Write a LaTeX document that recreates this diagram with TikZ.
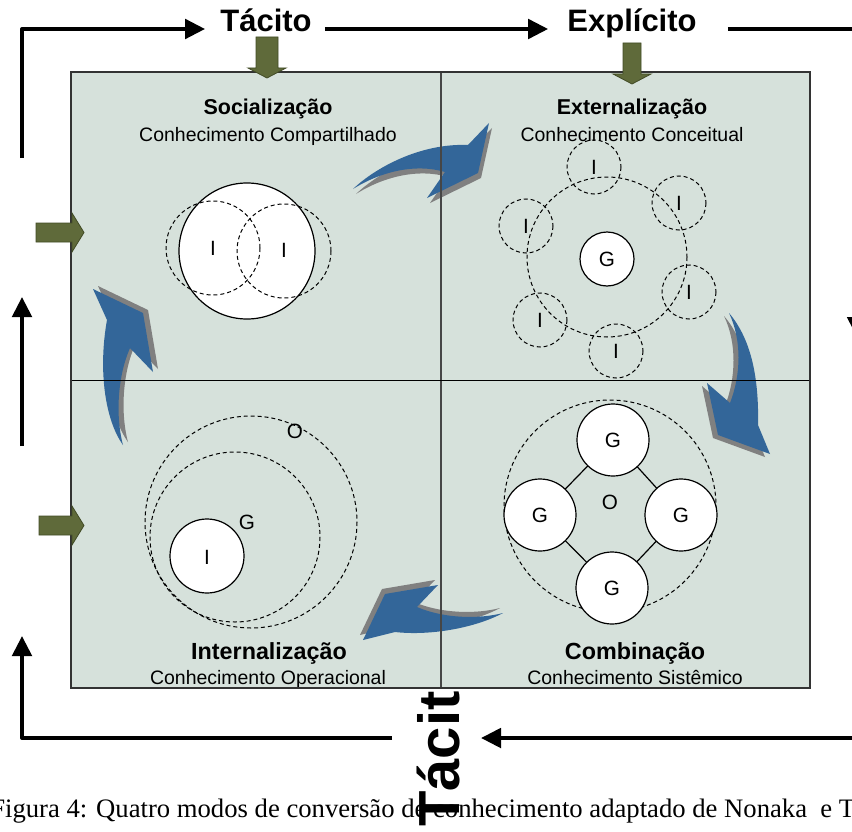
\documentclass[tikz,border=0pt]{standalone}
\usepackage{fontspec}
\setmainfont{Liberation Sans}
\newfontfamily\serifcap{Liberation Serif}
\usetikzlibrary{arrows.meta,shadows}

\definecolor{panelfill}{RGB}{214,225,219}
\definecolor{arrowblue}{RGB}{51,102,153}
\definecolor{shadowgray}{RGB}{128,128,128}
\definecolor{olivefill}{RGB}{95,106,58}
\definecolor{oliveedge}{RGB}{66,75,38}
\definecolor{divider}{RGB}{70,70,70}

\begin{document}
\begin{tikzpicture}[x=0.75pt,y=-0.75pt,
  flowline/.style={line width=3pt, line join=round, -{Triangle[length=15pt,width=14.5pt]}},
  flowplain/.style={line width=3pt, line join=round},
  flowlabel/.style={font=\bfseries\fontsize{23.25}{26}\selectfont, inner sep=0, anchor=base},
  vlabel/.style={font=\bfseries\fontsize{43.5}{48}\selectfont, inner sep=0},
  caption/.style={font=\serifcap\fontsize{20}{24}\selectfont, inner sep=0},
  titletext/.style={font=\bfseries\fontsize{16.1}{19}\selectfont, anchor=base, inner sep=0},
  lowtitletext/.style={font=\bfseries\fontsize{17.5}{20}\selectfont, anchor=base, inner sep=0},
  subtext/.style={font=\fontsize{14.6}{17}\selectfont, anchor=base, inner sep=0},
  circlab/.style={font=\fontsize{15.5}{18}\selectfont, inner sep=0},
  oliveblock/.style={fill=olivefill, draw=oliveedge, line width=0.6pt},
  dashring/.style={draw=black, line width=0.75pt, dash pattern=on 3pt off 2.2pt},
  solidring/.style={draw=black, fill=white, line width=0.9pt},
  cyclearrow/.style={fill=arrowblue},
]
\useasboundingbox (0,0) rectangle (852,831);
\fill[white] (0,0) rectangle (852,831);

% vertical label below the panel (its last letter lies behind the panel)
\node[vlabel, rotate=90, anchor=base west] (tacv) at (459,827) {Tácito};

% caption line
\node[caption, anchor=base west] (cap) at (-10,817)
  {Figura 4: Quatro modos de conversão de conhecimento adaptado de Nonaka\ \ e T};

% panel with its four quadrants
\coordinate (pnw) at (71,72);
\coordinate (pse) at (810,688);
\fill[panelfill] (pnw) rectangle (pse);

% --- Socialização
\node[titletext] (soc) at (268,115) {Socialização};
\node[subtext] (socsub) at (268,142) {Conhecimento Compartilhado};
\draw[solidring] (247,251) circle[radius=68];
\draw[dashring] (213,248) circle[radius=47];
\draw[dashring] (284,251) circle[radius=47];
\node[circlab] (socI1) at (213,248) {I};
\node[circlab] (socI2) at (284,250) {I};

% --- Externalização
\node[titletext] (ext) at (632,115) {Externalização};
\node[subtext] (extsub) at (632,142) {Conhecimento Conceitual};
\draw[dashring] (607,257) circle[radius=80];
\draw[solidring] (607,259) circle[radius=27];
\node[circlab] (extG) at (607,259) {G};
\foreach \px/\py/\nm in {594/167/a, 679/203/b, 526/226/c, 689/292/d, 540/320/e, 616/351/f}{
  \draw[dashring] (\px,\py) circle[radius=27];
  \node[circlab] (extI\nm) at (\px,\py) {I};
}

% --- Internalização
\node[lowtitletext] (int) at (269,659) {Internalização};
\node[subtext] (intsub) at (268,684) {Conhecimento Operacional};
\draw[dashring] (251,522) circle[radius=106];
\draw[dashring] (235,537) circle[radius=85];
\draw[solidring] (207,556) circle[radius=37];
\node[circlab] (intO) at (295,431) {O};
\node[circlab] (intG) at (247,522) {G};
\node[circlab] (intI) at (207,557) {I};

% --- Combinação
\node[lowtitletext] (com) at (635,659) {Combinação};
\node[subtext] (comsub) at (635,684) {Conhecimento Sistêmico};
\draw[dashring] (610,506) circle[radius=106];
\coordinate (cgt) at (613,440);
\coordinate (cgl) at (540,515);
\coordinate (cgr) at (681,515);
\coordinate (cgb) at (612,588);
\draw[line width=0.9pt] (cgt) -- (cgl) -- (cgb) -- (cgr) -- cycle;
\foreach \c in {cgt,cgl,cgr,cgb}{
  \draw[solidring] (\c) circle[radius=36];
  \node[circlab] (lab\c) at (\c) {G};
}
\node[circlab] (comO) at (610,502) {O};

% --- curved arrows of the knowledge spiral
\fill[cyclearrow, drop shadow={shadow xshift=2.25pt, shadow yshift=-3.75pt, fill=shadowgray, opacity=1}]
  (353,189) .. controls (375,168) and (420,143) .. (468,145) -- (489,123) -- (478,173)
  -- (427,198) -- (445,172) .. controls (415,163) and (380,172) .. (353,189) -- cycle;
\fill[cyclearrow, drop shadow={shadow xshift=-3.75pt, shadow yshift=-2.25pt, fill=shadowgray, opacity=1}]
  (729,313) .. controls (752,340) and (759,380) .. (758,425) -- (770,454) -- (718,435)
  -- (707,383) -- (730,403) .. controls (741,375) and (742,340) .. (729,313) -- cycle;
\fill[cyclearrow, drop shadow={shadow xshift=-2.25pt, shadow yshift=3.75pt, fill=shadowgray, opacity=1}]
  (503,613) .. controls (475,628) and (430,636) .. (395,632) -- (363,640) -- (385,594)
  -- (438,585) -- (417,607) .. controls (445,619) and (480,619) .. (503,613) -- cycle;
\fill[cyclearrow, drop shadow={shadow xshift=3.75pt, shadow yshift=2.25pt, fill=shadowgray, opacity=1}]
  (123,445) .. controls (105,420) and (98,370) .. (107,320) -- (93,289) -- (143,313)
  -- (153,372) -- (130,348) .. controls (118,375) and (115,415) .. (123,445) -- cycle;

% quadrant dividers and panel border
\draw[divider, line width=1.1pt] (441,72) -- (441,688);
\draw[black, line width=0.75pt] (71,380) -- (810,380);
\draw[black!80, line width=0.8pt] (pnw) rectangle (pse);

% outer flow labels and lines
\node[flowlabel] (tac) at (266,32) {Tácito};
\node[flowlabel] (exp) at (632,32) {Explícito};
\coordinate (ltop) at (22,29);
\coordinate (lstart) at (22,158);
\draw[flowline] (lstart) -- (ltop) -- ([xshift=-11.25pt]tac.west |- ltop);
\draw[flowline] ([xshift=9.75pt]tac.east |- ltop) -- ([xshift=-14.25pt]exp.west |- ltop);
\coordinate (rtop) at (857,29);
\coordinate (rmid) at (857,160);
\draw[flowplain] ([xshift=23.25pt]exp.east |- ltop) -- (rtop) -- (rmid);
\coordinate (rdown1) at (857,200);
\coordinate (rdown2) at (857,337);
\draw[flowline] (rdown1) -- (rdown2);
\coordinate (lup1) at (22,446);
\coordinate (lup2) at (22,297);
\draw[flowline] (lup1) -- (lup2);
\coordinate (bstart) at (392,738);
\coordinate (bcorner) at (22,738);
\coordinate (bend) at (22,636);
\draw[flowline] (bstart) -- (bcorner) -- (bend);
\coordinate (brstart) at (857,738);
\coordinate (brend) at (481,738);
\draw[flowline] (brstart) -- (brend);

% olive input arrows
\fill[oliveblock] (256,37) -- (278,37) -- (278,68) -- (286,68) -- (267,78) -- (248,68) -- (256,68) -- cycle;
\fill[oliveblock] (623,43) -- (641,43) -- (641,74) -- (651,74) -- (632,84) -- (613,74) -- (623,74) -- cycle;
\fill[oliveblock] (36,223) -- (36,242) -- (72,242) -- (72,252) -- (84,232.5) -- (72,213) -- (72,223) -- cycle;
\fill[oliveblock] (39,516) -- (39,535) -- (72,535) -- (72,545) -- (84,525.5) -- (72,506) -- (72,516) -- cycle;
\end{tikzpicture}
\end{document}
